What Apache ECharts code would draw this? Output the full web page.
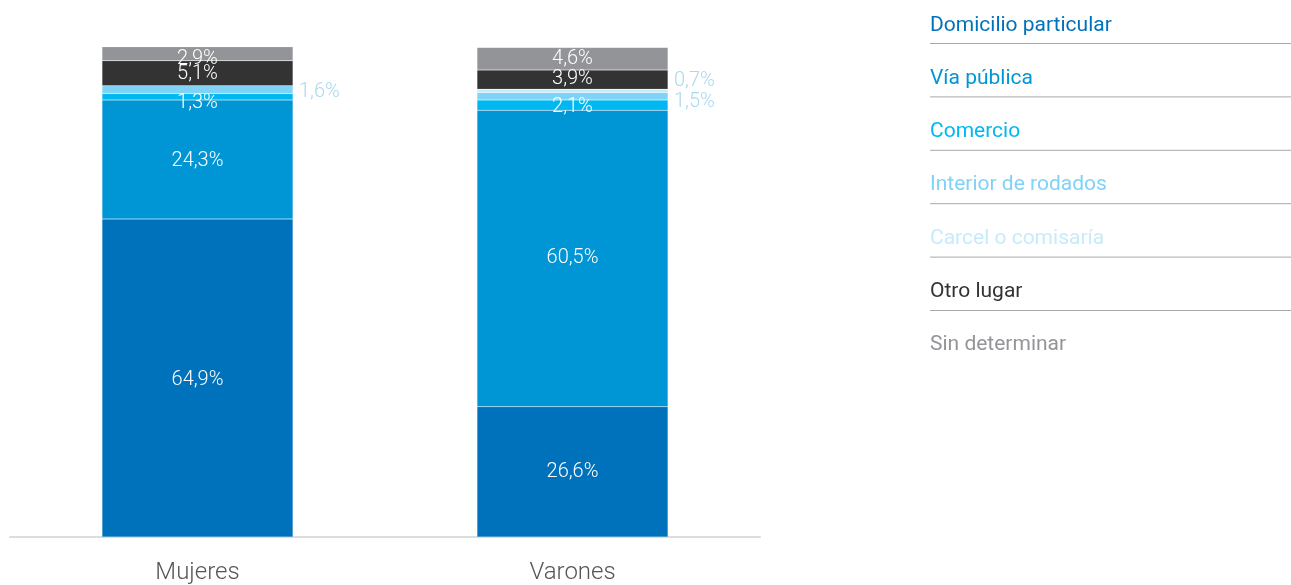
<!DOCTYPE html>
<html><head><meta charset="utf-8">
<script src="https://cdn.jsdelivr.net/npm/echarts@6/dist/echarts.min.js"></script>
<style>html,body{margin:0;padding:0;background:#fff}#c{width:1291px;height:585px}</style>
</head><body><div id="c"></div>
<script>
const categories = ['Mujeres', 'Varones'];
const seriesNames = ['Domicilio particular', 'Vía pública', 'Comercio', 'Interior de rodados', 'Carcel o comisaría', 'Otro lugar', 'Sin determinar'];
const domicilio = [64.9, 26.6];
const viaPublica = [24.3, 60.5];
const comercio = [1.3, 2.1];
const interior = [1.6, 1.5];
const carcel = [0, 0.7];
const otro = [5.1, 3.9];
const sinDet = [2.9, 4.6];
const values = [domicilio, viaPublica, comercio, interior, carcel, otro, sinDet];
const colors = ['#0072bb', '#0096d6', '#00b8f1', '#7fd3f7', '#c6ebfb', '#333333', '#929497'];
const legendColors = ['#0072bb', '#0096d6', '#00b8f1', '#7fd3f7', '#c6ebfb', '#333333', '#929497'];

// per-point label tweaks (style only)
const labelTweaks = {
  '2-0': {offset: [0, 6]},
  '2-1': {offset: [0, 2]},
  '3-0': {position: 'right', distance: 6, color: '#a9d9ee', offset: [0, 2]},
  '3-1': {position: 'right', distance: 6, color: '#a9d9ee', offset: [0, 6]},
  '4-1': {position: 'right', distance: 6, color: '#a9d9ee', offset: [0, -10]},
  '5-0': {offset: [0, 1]},
  '5-1': {offset: [0, -1]},
  '6-0': {offset: [0, 5]},
  '0-0': {offset: [0, 2]},
  '1-0': {offset: [0, 2]}
};

const fmt = v => v.toFixed(1).replace('.', ',') + '%';

const series = seriesNames.map((name, si) => ({
  name: name,
  type: 'bar',
  stack: 'total',
  barWidth: 191,
  itemStyle: {color: colors[si], borderColor: 'rgba(255,255,255,0.25)', borderWidth: 0.5},
  label: {
    show: true, position: 'inside', color: '#ffffff', fontFamily: 'Roboto', fontWeight: 300, fontSize: 20,
    formatter: p => p.value > 0 ? fmt(p.value) : ''
  },
  emphasis: {disabled: true},
  data: values[si].map((v, ci) => {
    const t = labelTweaks[si + '-' + ci];
    return t ? {value: v, label: t} : v;
  })
}));

const lineStep = 53.4;
const lines = seriesNames.slice(0, 6).map((n, i) => ({
  type: 'line',
  shape: {x1: 930, y1: 43.5 + i * lineStep, x2: 1291, y2: 43.5 + i * lineStep},
  style: {stroke: '#a8a8a8', lineWidth: 1}
}));

const chart = echarts.init(document.getElementById('c'));
chart.setOption({
  animation: false,
  grid: {left: 10, right: 531, top: 47, bottom: 47, containLabel: false},
  legend: {
    orient: 'vertical', left: 920, top: 10, icon: 'none', itemWidth: 0, itemHeight: 20,
    itemGap: 32.2, selectedMode: false,
    textStyle: {fontFamily: 'Roboto', fontSize: 21, lineHeight: 20},
    data: seriesNames.map((n, i) => ({name: n, textStyle: {color: legendColors[i]}}))
  },
  xAxis: {
    type: 'category', data: categories,
    axisLine: {lineStyle: {color: '#dddddd', width: 2}},
    axisTick: {show: false},
    axisLabel: {color: '#555555', fontFamily: 'Roboto', fontWeight: 300, fontSize: 24, margin: 24}
  },
  yAxis: {type: 'value', min: 0, max: 100, show: false, splitLine: {show: false}},
  series: series,
  graphic: lines
});
</script></body></html>
